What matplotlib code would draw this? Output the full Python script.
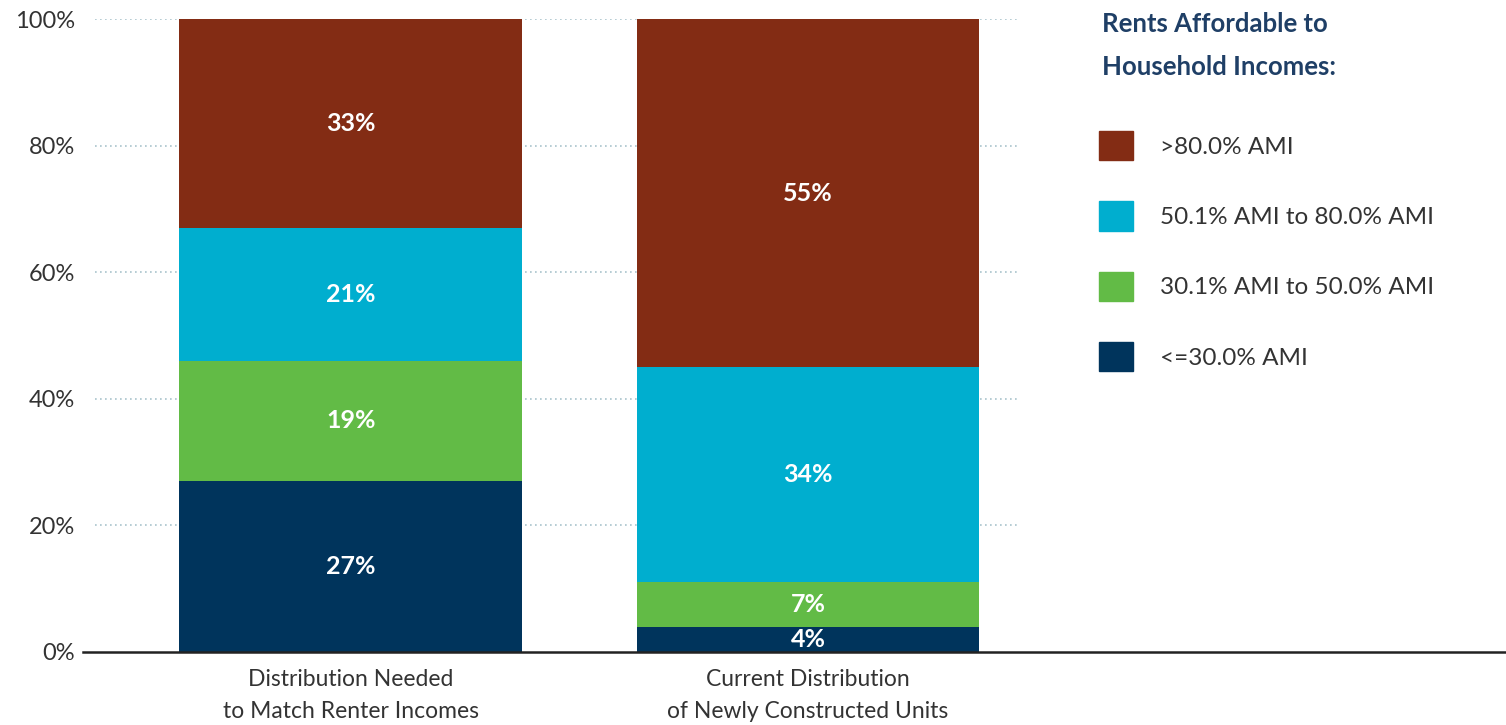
import numpy as np
import matplotlib.pyplot as plt
from matplotlib.patches import Patch

plt.rcParams['font.family'] = ['Lato', 'DejaVu Sans']

# data
categories = ['Distribution Needed\nto Match Renter Incomes',
              'Current Distribution\nof Newly Constructed Units']
series_names = ['<=30.0% AMI', '30.1% AMI to 50.0% AMI',
                '50.1% AMI to 80.0% AMI', '>80.0% AMI']
le30 = [27, 4]
ami30_50 = [19, 7]
ami50_80 = [21, 34]
gt80 = [33, 55]
yticks = [0, 20, 40, 60, 80, 100]

colors = ['#00345C', '#62BB46', '#00AECF', '#832C14']
series = [le30, ami30_50, ami50_80, gt80]

fig = plt.figure(figsize=(15.06, 7.25), dpi=100)
W, H = 1506, 725
ax = fig.add_axes([83 / W, 1 - 652 / H, (W - 83) / W, (652 - 19) / H])

x = np.arange(len(categories))
bottom = np.zeros(len(categories))
for vals, col in zip(series, colors):
    vals = np.array(vals, dtype=float)
    ax.bar(x, vals, bottom=bottom, width=0.75, color=col, zorder=3)
    for xi, b, v in zip(x, bottom, vals):
        ax.text(xi, b + v / 2, '%d%%' % v, ha='center', va='center',
                color='white', fontsize=18, fontweight='bold', zorder=4)
    bottom += vals

# gridlines (dotted, only over the plot part)
x0, x1 = -0.586, 2.527
gx0 = (95 - 83) / (W - 83)
gx1 = (1018 - 83) / (W - 83)
for t in yticks[1:]:
    ax.axhline(t, xmin=gx0, xmax=gx1, color='#A9C4CC', lw=1.2,
               ls=(0, (1, 2)), zorder=1)

ax.set_xlim(x0, x1)
ax.set_ylim(0, 100)
ax.set_yticks(yticks)
ax.set_yticklabels(['%d%%' % t for t in yticks])
ax.set_xticks(x)
ax.set_xticklabels(categories, linespacing=1.65)
ax.tick_params(axis='y', length=0, pad=6, labelsize=17, labelcolor='#333333')
ax.tick_params(axis='x', length=0, pad=12, labelsize=16.5, labelcolor='#333333')
for s in ['top', 'right', 'left']:
    ax.spines[s].set_visible(False)
ax.spines['bottom'].set_color('#222222')
ax.spines['bottom'].set_linewidth(1.8)
ax.spines['bottom'].set_zorder(5)

# legend
fig.text(1102 / W, 1 - 12 / H, 'Rents Affordable to\nHousehold Incomes:',
         ha='left', va='top', fontsize=18.5, fontweight='bold', color='#1F3F66',
         linespacing=1.97)
handles = [Patch(color=c, label=n) for c, n in zip(colors[::-1], series_names[::-1])]
fs = 17.5
fpx = fs * 100 / 72
fig.legend(handles=handles, loc='upper left',
           bbox_to_anchor=(1099 / W, 1 - 131 / H), frameon=False,
           fontsize=fs, handlelength=34 / fpx, handleheight=36 / fpx,
           labelspacing=41 / fpx, handletextpad=27 / fpx,
           borderpad=0, borderaxespad=0, labelcolor='#333333')

fig.savefig('out.png', dpi=100)
